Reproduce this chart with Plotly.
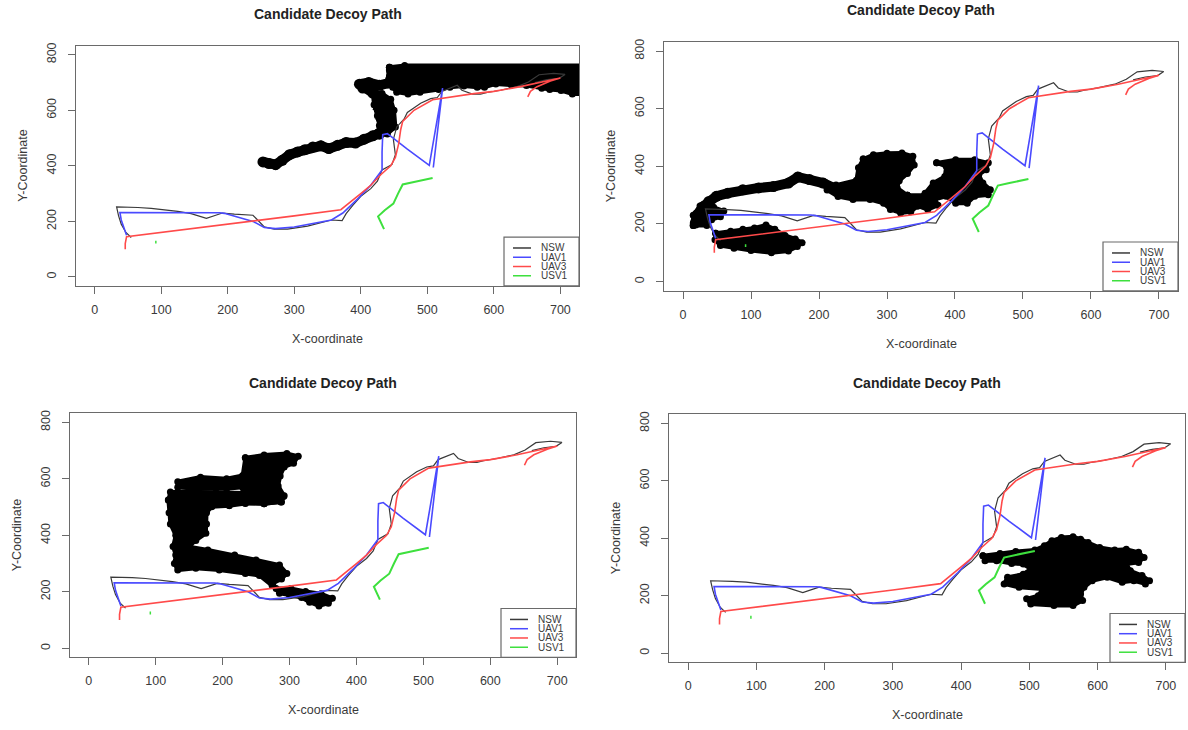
import plotly.graph_objects as go

W, H = 1188, 730

TITLE = "Candidate Decoy Path"
X_LABEL = "X-coordinate"
Y_LABEL = "Y-Coordinate"
X_TICKS = [0, 100, 200, 300, 400, 500, 600, 700]
Y_TICKS = [0, 200, 400, 600, 800]
SERIES_NAMES = ["NSW", "UAV1", "UAV3", "USV1"]

# ---- common vehicle paths (data coordinates) ----
NSW_X = [55, 47, 40, 36, 33, 48, 65, 85, 105, 125, 145, 168, 182, 192, 210, 238, 245, 255, 270, 290,
         320, 356, 372, 378, 388, 400, 415, 425, 432, 447, 452, 449, 454, 465, 470, 490, 505, 515,
         522, 535, 545, 552, 568, 580, 590, 610, 635, 652, 668, 690, 707, 698, 680, 662]
NSW_Y = [142, 160, 190, 220, 252, 252, 250, 247, 242, 236, 228, 211, 222, 230, 226, 222, 205, 180, 172, 172,
         183, 205, 203, 228, 258, 290, 318, 345, 385, 405, 440, 495, 540, 568, 592, 625, 642, 646,
         668, 680, 690, 672, 658, 658, 664, 672, 685, 702, 728, 733, 729, 715, 710, 700]

UAV1_X = [48, 44, 40, 38, 60, 100, 150, 188, 195, 215, 238, 255, 272, 300, 330, 356, 373, 395, 415,
          432, 432, 433, 440, 470, 503, 523, 509]
UAV1_Y = [150, 175, 205, 232, 232, 231, 230, 231, 229, 215, 200, 178, 174, 180, 192, 205, 230, 280, 330,
          385, 450, 512, 516, 460, 402, 680, 394]

UAV3_X = [46, 46, 48, 100, 200, 300, 370, 385, 400, 415, 430, 445, 452, 457, 460, 463, 480, 508, 540,
          570, 600, 640, 700, 685, 665, 655, 651]
UAV3_Y = [100, 120, 145, 160, 190, 220, 242, 270, 300, 330, 368, 400, 430, 480, 530, 560, 600, 638, 650,
          660, 668, 685, 716, 705, 685, 668, 648]

USV1_X = [435, 430, 426, 436, 449, 456, 463, 480, 508]
USV1_Y = [172, 195, 218, 240, 264, 300, 333, 342, 356]
USV1_DOT_X = [92, 92]
USV1_DOT_Y = [120, 130]

# ---- candidate decoy paths (black), one set per panel ----
DECOY1_TAIL_X = [253, 262, 272, 282, 293, 305, 316, 328, 340, 352, 365, 378, 392, 405, 418, 428, 436, 438,
                 432, 442, 440, 428, 432, 428, 418, 403, 398, 412, 428, 442, 446, 446]
DECOY1_TAIL_Y = [414, 408, 404, 420, 440, 450, 458, 468, 472, 462, 474, 484, 482, 496, 508, 514, 525, 545,
                 565, 585, 600, 612, 630, 648, 662, 680, 694, 700, 690, 698, 720, 745]
DECOY1_COL_X = [425, 440, 452, 450, 445, 432, 418, 420, 425, 428]
DECOY1_COL_Y = [520, 515, 540, 600, 640, 660, 660, 620, 580, 545]
DECOY1_BAND_X = [443, 466, 735, 735, 718, 701, 684, 672, 649, 626, 603, 586, 575, 555, 534, 517, 489, 471,
                 454, 448, 448, 443]
DECOY1_BAND_Y = [755, 761, 761, 659, 659, 671, 675, 679, 689, 691, 695, 683, 683, 687, 683, 675, 665, 659,
                 665, 683, 701, 719]

DECOY2_ARC_X = [18, 21, 30, 38, 49, 66, 88, 111, 133, 155, 169, 186, 206, 222, 245, 256]
DECOY2_ARC_Y = [203, 232, 261, 278, 296, 307, 319, 325, 330, 342, 363, 354, 342, 325, 319, 336]
DECOY2_LEFT_X = [15, 15, 25, 45, 60, 55, 42, 35]
DECOY2_LEFT_Y = [195, 230, 262, 258, 245, 225, 215, 195]
DECOY2_LOBE_X = [48, 70, 88, 105, 122, 135, 150, 165, 175, 168, 155, 130, 100, 75, 55, 47]
DECOY2_LOBE_Y = [168, 175, 182, 186, 196, 182, 160, 148, 135, 122, 106, 100, 108, 116, 125, 145]
DECOY2_MID_X = [265, 280, 300, 322, 338, 340, 330, 318, 315, 330, 345, 335, 320, 305, 295, 275, 250, 228,
                212, 225, 255, 258]
DECOY2_MID_Y = [425, 440, 445, 446, 435, 405, 375, 350, 325, 300, 262, 242, 238, 250, 272, 285, 285, 295,
                318, 335, 352, 395]
DECOY2_BRIDGE_X = [330, 345, 360, 375, 370, 355]
DECOY2_BRIDGE_Y = [300, 262, 250, 265, 290, 300]
DECOY2_RIGHT_X = [373, 401, 429, 449, 446, 435, 441, 452, 449, 429, 418, 401, 387, 368, 356, 368, 385, 387]
DECOY2_RIGHT_Y = [412, 423, 423, 412, 388, 371, 342, 319, 301, 296, 272, 272, 296, 284, 307, 342, 365, 400]

DECOY3_TOP_X = [234, 262, 296, 313, 306, 292, 286, 283, 292, 287, 262, 234, 230, 206, 161, 133, 133, 167,
                206, 230]
DECOY3_TOP_Y = [675, 684, 690, 680, 655, 642, 610, 575, 540, 518, 512, 514, 570, 565, 565, 570, 590, 606,
                600, 612]
DECOY3_MAIN_X = [119, 122, 150, 190, 230, 263, 291, 288, 262, 234, 210, 184, 176, 176, 175, 160, 150, 178,
                 218, 250, 285, 296, 288, 275, 280, 302, 324, 347, 364, 358, 344, 330, 318, 300, 285, 274,
                 255, 234, 195, 160, 133, 128, 130, 126, 130, 122, 120]
DECOY3_MAIN_Y = [525, 553, 554, 552, 549, 548, 537, 518, 512, 513, 505, 501, 480, 440, 407, 382, 360, 348,
                 330, 313, 295, 265, 245, 230, 212, 212, 201, 193, 177, 159, 150, 163, 180, 188, 195, 222,
                 258, 265, 277, 283, 277, 300, 330, 360, 400, 440, 480]

DECOY4_X = [432, 457, 480, 508, 522, 533, 547, 564, 575, 586, 603, 625, 642, 660, 668, 660, 642, 648, 665,
            676, 670, 653, 636, 614, 592, 580, 575, 578, 564, 536, 502, 496, 513, 519, 485, 463, 468, 491,
            502, 491, 474, 452, 435]
DECOY4_Y = [339, 347, 354, 359, 374, 391, 403, 405, 397, 385, 368, 359, 362, 351, 333, 316, 310, 287, 270,
            252, 241, 252, 247, 264, 252, 229, 206, 183, 166, 166, 171, 189, 200, 223, 229, 241, 264, 275,
            293, 310, 312, 322, 322]

DECOYS = [
    [("poly", DECOY1_BAND_X, DECOY1_BAND_Y), ("poly", DECOY1_COL_X, DECOY1_COL_Y),
     ("walk", DECOY1_TAIL_X, DECOY1_TAIL_Y)],
    [("poly", DECOY2_LEFT_X, DECOY2_LEFT_Y), ("poly", DECOY2_LOBE_X, DECOY2_LOBE_Y),
     ("poly", DECOY2_MID_X, DECOY2_MID_Y), ("poly", DECOY2_BRIDGE_X, DECOY2_BRIDGE_Y),
     ("poly", DECOY2_RIGHT_X, DECOY2_RIGHT_Y), ("walk", DECOY2_ARC_X, DECOY2_ARC_Y)],
    [("poly", DECOY3_TOP_X, DECOY3_TOP_Y), ("poly", DECOY3_MAIN_X, DECOY3_MAIN_Y)],
    [("poly", DECOY4_X, DECOY4_Y)],
]

# ---- layout (pixel boxes of each panel: left, right, top, bottom) ----
PANELS = [(76, 579, 43, 284), (664, 1178, 39, 289), (70, 576, 412, 657), (669, 1185, 413, 662)]
TITLE_PY = [11, 7, 382, 382]

COLORS = ["#3a3a3a", "#4a4aff", "#ff4a4a", "#3ee03e"]
WIDTHS = [1.2, 1.6, 1.6, 2.0]
FONT = "Liberation Sans, Arial, sans-serif"
TXT = "#3a3a3a"
FRAME = "#6a6a6a"


def pxx(px):
    return px / W


def pxy(py):
    return 1 - py / H


fig = go.Figure()
layout = dict(width=W, height=H, margin=dict(l=0, r=0, t=0, b=0), paper_bgcolor="white",
              plot_bgcolor="white", showlegend=False, font=dict(family=FONT, color=TXT))
annotations = []
shapes = []

for i, (l, r, t, b) in enumerate(PANELS):
    n = i + 1
    xa = "x" if n == 1 else f"x{n}"
    ya = "y" if n == 1 else f"y{n}"
    for kind, bx, by in DECOYS[i]:
        if kind == "poly":
            fig.add_trace(go.Scatter(x=bx + bx[:1], y=by + by[:1], xaxis=xa, yaxis=ya, mode="lines+markers",
                                     fill="toself", fillcolor="black",
                                     line=dict(color="black", width=4),
                                     marker=dict(size=7, color="black"), hoverinfo="skip"))
        else:
            fig.add_trace(go.Scatter(x=bx, y=by, xaxis=xa, yaxis=ya, mode="lines+markers",
                                     line=dict(color="black", width=10),
                                     marker=dict(size=11, color="black"), hoverinfo="skip"))
    paths = [(NSW_X, NSW_Y), (UAV1_X, UAV1_Y), (UAV3_X, UAV3_Y), (USV1_X, USV1_Y)]
    for k, (sx, sy) in enumerate(paths):
        fig.add_trace(go.Scatter(x=sx, y=sy, xaxis=xa, yaxis=ya, mode="lines", name=SERIES_NAMES[k],
                                 line=dict(color=COLORS[k], width=WIDTHS[k]), hoverinfo="skip"))
    fig.add_trace(go.Scatter(x=USV1_DOT_X, y=USV1_DOT_Y, xaxis=xa, yaxis=ya, mode="lines",
                             line=dict(color=COLORS[3], width=1.5), hoverinfo="skip"))

    axcommon = dict(showgrid=False, zeroline=False, showline=True, mirror=True, linecolor=FRAME,
                    linewidth=1.3, ticks="outside", ticklen=7, tickcolor=FRAME, tickwidth=1.2,
                    tickfont=dict(family=FONT, size=12.5, color=TXT))
    layout["xaxis" if n == 1 else f"xaxis{n}"] = dict(domain=[pxx(l), pxx(r)], anchor=ya, range=[-28, 728],
                                                     tickvals=X_TICKS, ticklabelstandoff=5, **axcommon)
    layout["yaxis" if n == 1 else f"yaxis{n}"] = dict(domain=[pxy(b), pxy(t)], anchor=xa, range=[-32, 832],
                                                     tickvals=Y_TICKS, tickangle=-90, ticklabelstandoff=7,
                                                     **axcommon)
    cx = (l + r) / 2
    annotations.append(dict(text=f"<b>{TITLE}</b>", x=pxx(cx), y=pxy(TITLE_PY[i]), xref="paper", yref="paper",
                            showarrow=False, font=dict(size=14, color="#222", family=FONT),
                            xanchor="center", yanchor="middle"))
    annotations.append(dict(text=X_LABEL, x=pxx(cx), y=pxy(b + 53), xref="paper", yref="paper",
                            showarrow=False, font=dict(size=12.5, color=TXT, family=FONT),
                            xanchor="center", yanchor="middle"))
    annotations.append(dict(text=Y_LABEL, x=pxx(l - 53), y=pxy((t + b) / 2), xref="paper", yref="paper",
                            showarrow=False, textangle=-90, font=dict(size=12.5, color=TXT, family=FONT),
                            xanchor="center", yanchor="middle"))
    # legend box (bottom right)
    lx0, lx1, ly0, ly1 = r - 75, r, b - 49, b
    shapes.append(dict(type="rect", xref="paper", yref="paper", x0=pxx(lx0), x1=pxx(lx1), y0=pxy(ly1),
                       y1=pxy(ly0), line=dict(color=FRAME, width=1.2), fillcolor="white", layer="above"))
    for k, name in enumerate(SERIES_NAMES):
        yy = b - 38 + k * 9.3
        shapes.append(dict(type="line", xref="paper", yref="paper", x0=pxx(lx0 + 9), x1=pxx(lx0 + 27),
                           y0=pxy(yy), y1=pxy(yy), line=dict(color=COLORS[k], width=1.5), layer="above"))
        annotations.append(dict(text=name, x=pxx(lx0 + 35), y=pxy(yy), xref="paper", yref="paper",
                                showarrow=False, font=dict(size=10, color=TXT, family=FONT),
                                xanchor="left", yanchor="middle"))

layout["annotations"] = annotations
layout["shapes"] = shapes
fig.update_layout(**layout)
fig.write_html("out.html", config={"displayModeBar": False},
               post_script="document.body.style.margin='0';document.body.style.overflow='hidden';")
